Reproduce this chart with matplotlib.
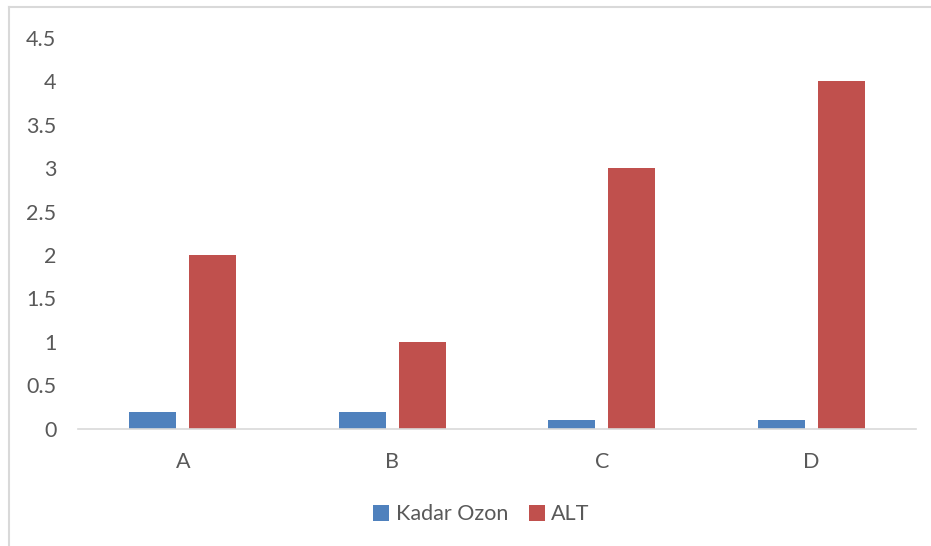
import numpy as np
import matplotlib.pyplot as plt

categories = ["A", "B", "C", "D"]
kadar_ozon = [0.2, 0.2, 0.1, 0.1]
alt = [2, 1, 3, 4]
yticks = [0, 0.5, 1, 1.5, 2, 2.5, 3, 3.5, 4, 4.5]
ytick_labels = ["0", "0.5", "1", "1.5", "2", "2.5", "3", "3.5", "4", "4.5"]

plt.rcParams['font.family'] = ['Lato', 'DejaVu Sans']

fig = plt.figure(figsize=(9.31, 5.46), dpi=100)
ax = fig.add_axes([0.0838, 0.2143, 0.9001, 0.717])

x = np.arange(len(categories))
w = 0.225
off = 0.1425
ax.bar(x - off, kadar_ozon, w, color="#4F81BD", label="Kadar Ozon")
ax.bar(x + off, alt, w, color="#C0504D", label="ALT")

ax.set_xlim(-0.5, len(categories) - 0.5)
ax.set_ylim(0, 4.5)
ax.set_yticks(yticks)
ax.set_yticklabels(ytick_labels)
ax.set_xticks(x)
ax.set_xticklabels(categories)
ax.tick_params(axis='y', length=0, pad=15.5, labelsize=15.5, labelcolor="#595959")
ax.tick_params(axis='x', length=0, pad=16.5, labelsize=15.5, labelcolor="#595959")

for s in ["top", "right", "left"]:
    ax.spines[s].set_visible(False)
ax.spines["bottom"].set_color("#D9D9D9")
ax.spines["bottom"].set_linewidth(1.2)

leg = fig.legend(loc="center", bbox_to_anchor=(0.517, 0.058), ncol=2, frameon=False,
                 fontsize=15.5, handlelength=0.75, handleheight=0.75, handletextpad=0.3,
                 columnspacing=0.95)
for t in leg.get_texts():
    t.set_color("#595959")

# chart border (only left and top visible in the crop)
fig.add_artist(plt.Line2D([8.5 / 931, 8.5 / 931], [0, 1 - 7 / 546], color="#D9D9D9", lw=1.5,
                          transform=fig.transFigure))
fig.add_artist(plt.Line2D([8.5 / 931, 1], [1 - 7 / 546, 1 - 7 / 546], color="#D9D9D9", lw=1.5,
                          transform=fig.transFigure))

fig.savefig("out.png", dpi=100)
